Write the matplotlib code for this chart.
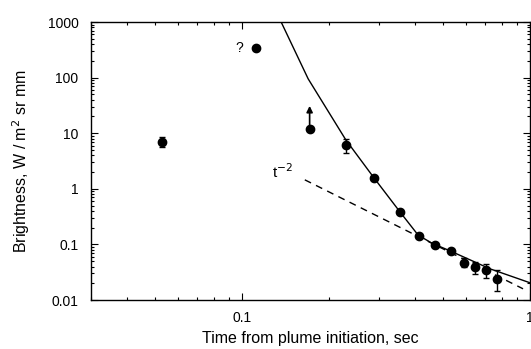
import numpy as np
import matplotlib
matplotlib.use('Agg')
import matplotlib.pyplot as plt
from matplotlib.ticker import LogLocator, NullFormatter, FixedLocator, FixedFormatter

plt.rcParams['font.family'] = ['Liberation Sans', 'DejaVu Sans']

# measured points
t_pts = [0.053, 0.112, 0.172, 0.230, 0.288, 0.354, 0.412, 0.468, 0.531, 0.590, 0.644, 0.703, 0.766]
b_pts = [7.0, 344., 12., 6.2, 1.56, 0.375, 0.143, 0.097, 0.077, 0.047, 0.0385, 0.0345, 0.024]
b_lo = [5.7, 344., 12., 4.4, 1.45, 0.35, 0.135, 0.092, 0.072, 0.0385, 0.029, 0.0247, 0.0146]
b_hi = [8.4, 344., 12., 7.9, 1.68, 0.40, 0.152, 0.103, 0.082, 0.0567, 0.048, 0.044, 0.0346]

# lower-limit arrow on the third point
arrow_t = 0.172
arrow_from = 12.
arrow_to = 31.

# model curve
t_fit = [0.137, 0.170, 0.2296, 0.2874, 0.3537, 0.4092, 0.4571, 0.5275, 0.7262, 1.0]
b_fit = [1000., 95., 7.6, 1.58, 0.386, 0.147, 0.105, 0.0767, 0.0364, 0.0204]

# t^-2 reference line
t_ref = [0.1655, 0.946]
b_ref = [1.45, 0.0159]

fig = plt.figure(figsize=(5.31, 3.49), dpi=100)
ax = fig.add_axes([91 / 531., 49 / 349., 439 / 531., 278 / 349.])

ax.plot(t_fit, b_fit, 'k-', lw=1.0)
ax.plot(t_ref, b_ref, 'k--', lw=1.0, dashes=(5, 4))

b_pts = np.array(b_pts)
yerr = [b_pts - np.array(b_lo), np.array(b_hi) - b_pts]
ax.errorbar(t_pts, b_pts, yerr=yerr, fmt='o', color='k', ms=6,
            elinewidth=1.0, capsize=2.5, capthick=1.0)

ax.annotate('', xy=(arrow_t, arrow_to), xytext=(arrow_t, arrow_from),
            arrowprops=dict(arrowstyle='-|>', color='k', lw=1.2,
                            mutation_scale=9, shrinkA=0, shrinkB=0))

ax.text(0.0984, 344., '?', fontsize=10, ha='center', va='center')
ax.text(0.127, 2.0, r't$^{-2}$', fontsize=11, ha='left', va='center')

ax.set_xscale('log')
ax.set_yscale('log')
ax.set_xlim(0.03, 1.0)
ax.set_ylim(0.01, 1000)

ax.yaxis.set_major_locator(FixedLocator([0.01, 0.1, 1, 10, 100, 1000]))
ax.yaxis.set_major_formatter(FixedFormatter(['0.01', '0.1', '1', '10', '100', '1000']))
ax.yaxis.set_minor_locator(LogLocator(base=10, subs=np.arange(2, 10)))
ax.yaxis.set_minor_formatter(NullFormatter())
ax.xaxis.set_major_locator(FixedLocator([0.1, 1.0]))
ax.xaxis.set_major_formatter(FixedFormatter(['0.1', '1']))
ax.xaxis.set_minor_locator(LogLocator(base=10, subs=np.arange(2, 10)))
ax.xaxis.set_minor_formatter(NullFormatter())

ax.tick_params(which='both', direction='in', top=True, right=True, labelsize=10, width=0.8)
ax.tick_params(which='major', length=5)
ax.tick_params(which='minor', length=2.5)
ax.tick_params(axis='y', pad=9)
ax.tick_params(axis='x', pad=8)
for s in ax.spines.values():
    s.set_linewidth(1.0)

ax.set_xlabel('Time from plume initiation, sec', fontsize=11.5, labelpad=4)
ax.set_ylabel(r'Brightness, W / m$^2$ sr mm', fontsize=11.5, labelpad=11)

fig.savefig('out.png', dpi=100)
